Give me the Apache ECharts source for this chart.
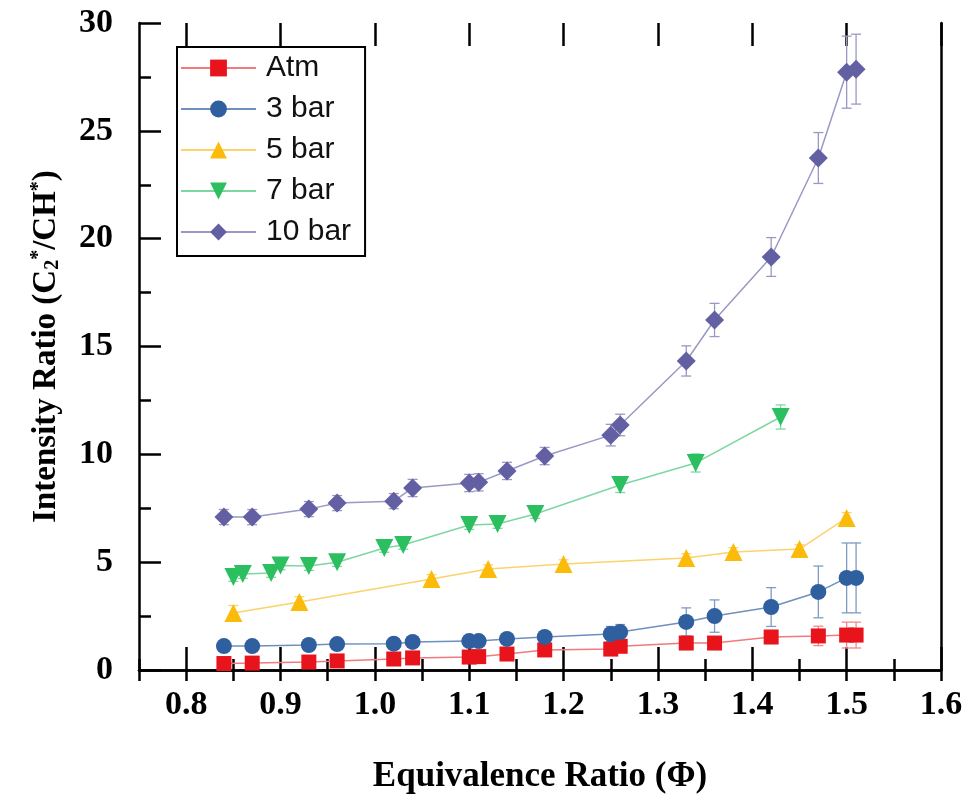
<!DOCTYPE html>
<html>
<head>
<meta charset="utf-8">
<script src="https://cdn.jsdelivr.net/npm/echarts@6/dist/echarts.min.js"></script>
<style>html,body{margin:0;padding:0;background:#fff}#c{width:973px;height:809px}</style>
</head>
<body>
<div id="c"></div>
<script>
// ---- data ----
const atmX  = [0.84,0.87,0.93,0.96,1.02,1.04,1.10,1.11,1.14,1.18,1.25,1.26,1.33,1.36,1.42,1.47,1.50,1.51];
const atmY  = [0.30,0.32,0.37,0.42,0.51,0.56,0.60,0.62,0.74,0.93,0.97,1.10,1.25,1.25,1.53,1.58,1.62,1.62];
const atmE  = [0.12,0.12,0.12,0.12,0.12,0.12,0.12,0.12,0.12,0.12,0.15,0.15,0.15,0.15,0.30,0.45,0.60,0.60];

const b3X = [0.84,0.87,0.93,0.96,1.02,1.04,1.10,1.11,1.14,1.18,1.25,1.26,1.33,1.36,1.42,1.47,1.50,1.51];
const b3Y = [1.11,1.11,1.16,1.20,1.22,1.30,1.34,1.34,1.44,1.53,1.67,1.76,2.23,2.50,2.92,3.62,4.27,4.27];
const b3E = [0.20,0.20,0.20,0.20,0.20,0.20,0.20,0.20,0.20,0.20,0.35,0.35,0.65,0.75,0.90,1.20,1.62,1.62];

const b5X = [0.85,0.92,1.06,1.12,1.20,1.33,1.38,1.45,1.50];
const b5Y = [2.64,3.15,4.22,4.68,4.91,5.19,5.47,5.61,7.05];
const b5E = [0.35,0.25,0.20,0.20,0.20,0.20,0.20,0.20,0.25];

const b7X = [0.85,0.86,0.89,0.90,0.93,0.96,1.01,1.03,1.10,1.13,1.17,1.26,1.34,1.43];
const b7Y = [4.31,4.45,4.50,4.85,4.82,5.00,5.66,5.80,6.72,6.77,7.23,8.58,9.60,11.73];
const b7E = [0.20,0.20,0.20,0.20,0.20,0.20,0.20,0.20,0.20,0.20,0.20,0.35,0.42,0.56];

const b10X = [0.84,0.87,0.93,0.96,1.02,1.04,1.10,1.11,1.14,1.18,1.25,1.26,1.33,1.36,1.42,1.47,1.50,1.51];
const b10Y = [7.09,7.09,7.46,7.74,7.83,8.44,8.67,8.70,9.23,9.92,10.89,11.36,14.33,16.23,19.15,23.74,27.72,27.86];
const b10E = [0.35,0.35,0.35,0.35,0.35,0.40,0.40,0.40,0.40,0.40,0.50,0.50,0.70,0.77,0.90,1.18,1.67,1.62];

const seriesNames = ['Atm','3 bar','5 bar','7 bar','10 bar'];
const xTickLabels = ['0.8','0.9','1.0','1.1','1.2','1.3','1.4','1.5','1.6'];
const yTickLabels = ['0','5','10','15','20','25','30'];

// ---- styles ----
const styles = [
  {mark:'#e8141c', line:'#f07a7e', err:'#f4898c', symbol:'rect', size:15, rot:0},
  {mark:'#2f5f9f', line:'#6f8fbf', err:'#7f9ac4', symbol:'circle', size:16, rot:0},
  {mark:'#fbbb0a', line:'#fcd36a', err:'#fcd36a', symbol:'triangle', size:18, rot:0},
  {mark:'#2cbf60', line:'#7cd8a0', err:'#7cd8a0', symbol:'triangle', size:18, rot:180},
  {mark:'#625fa3', line:'#9a98c4', err:'#9a98c4', symbol:'diamond', size:19, rot:0}
];
const xs = [atmX,b3X,b5X,b7X,b10X], ys=[atmY,b3Y,b5Y,b7Y,b10Y], es=[atmE,b3E,b5E,b7E,b10E];

const serif = 'Liberation Serif';
const series = [];
seriesNames.forEach((n,i)=>{
  const st = styles[i];
  const pts = xs[i].map((x,k)=>[x, ys[i][k], es[i][k]]);
  series.push({
    name:n, type:'line', xAxisIndex:0, yAxisIndex:0, z:3,
    data: pts.map(p=>[p[0],p[1]]),
    symbol: st.symbol, symbolSize: st.size, symbolRotate: st.rot,
    showAllSymbol:true,
    lineStyle:{color:st.line, width:1.5},
    itemStyle:{color:st.mark},
    animation:false
  });
  series.push({
    name:n+' error', type:'custom', xAxisIndex:0, yAxisIndex:0, z:2, silent:true,
    data: pts,
    renderItem:(params, api)=>{
      const x=api.value(0), y=api.value(1), e=api.value(2);
      const p1=api.coord([x,y+e]), p2=api.coord([x,y-e]);
      const cw=5;
      const s={stroke:st.err, lineWidth:1.3};
      return {type:'group', children:[
        {type:'line', shape:{x1:p1[0],y1:p1[1],x2:p2[0],y2:p2[1]}, style:s},
        {type:'line', shape:{x1:p1[0]-cw,y1:p1[1],x2:p1[0]+cw,y2:p1[1]}, style:s},
        {type:'line', shape:{x1:p2[0]-cw,y1:p2[1],x2:p2[0]+cw,y2:p2[1]}, style:s}
      ]};
    }
  });
});

const chart = echarts.init(document.getElementById('c'), null, {renderer:'canvas'});
const gridW = 802, xmin=0.75, xmax=1.6;
const left2 = 139 + (0.8-xmin)/(xmax-xmin)*gridW;
chart.setOption({
  animation:false,
  backgroundColor:'#fff',
  grid:[
    {left:139, right:32, top:23, bottom:139, containLabel:false},
    {left:left2, right:32, top:23, bottom:139, containLabel:false}
  ],
  legend:{
    data: seriesNames.map(n=>({name:n})),
    orient:'vertical', left:177, top:47,
    itemWidth:75, itemHeight:21, itemGap:11,
    padding:[6,14,9,3],
    borderColor:'#000', borderWidth:2, backgroundColor:'#fff',
    textStyle:{fontFamily:'Liberation Sans', fontSize:30, color:'#111', padding:[0,0,0,5]},
    selectedMode:false, z:10
  },
  xAxis:[
    {gridIndex:0, type:'value', min:xmin, max:xmax, interval:0.05, position:'bottom',
     name:'Equivalence Ratio (\u03A6)', nameLocation:'middle', nameGap:89,
     nameTextStyle:{fontFamily:serif, fontWeight:'bold', fontSize:35, color:'#000'},
     axisLine:{show:true, lineStyle:{color:'#000', width:2.5}},
     axisTick:{show:true, inside:true, length:11, lineStyle:{color:'#000', width:2.5}},
     axisLabel:{show:false}, splitLine:{show:false}},
    {gridIndex:0, type:'value', min:xmin, max:xmax, interval:0.05, position:'top',
     axisLine:{show:true, lineStyle:{color:'#000', width:2.5}},
     axisTick:{show:true, inside:true, length:11, lineStyle:{color:'#000', width:2.5}},
     axisLabel:{show:false}, splitLine:{show:false}},
    {gridIndex:1, type:'value', min:0.8, max:1.6, interval:0.1, position:'bottom',
     axisLine:{show:false},
     axisTick:{show:true, inside:true, length:23, lineStyle:{color:'#000', width:2.5}},
     axisLabel:{show:true, margin:18, fontFamily:serif, fontWeight:'bold', fontSize:34, color:'#000',
       formatter:(v)=>{const i=Math.round((v-0.8)/0.1); return xTickLabels[i]!==undefined?xTickLabels[i]:'';}},
     splitLine:{show:false}},
    {gridIndex:1, type:'value', min:0.8, max:1.6, interval:0.1, position:'top',
     axisLine:{show:false},
     axisTick:{show:true, inside:true, length:23, lineStyle:{color:'#000', width:2.5}},
     axisLabel:{show:false}, splitLine:{show:false}}
  ],
  yAxis:[
    {gridIndex:0, type:'value', min:0, max:30, interval:5, position:'left',
     name:'Intensity Ratio (C{sub|2}{sup|*}/CH{sup|*})', nameLocation:'middle', nameGap:76,
     nameTextStyle:{fontFamily:serif, fontWeight:'bold', fontSize:33, color:'#000',
       rich:{sub:{fontFamily:serif, fontWeight:'bold', fontSize:20, color:'#000', verticalAlign:'bottom', padding:[12,0,0,0]},
             sup:{fontFamily:serif, fontWeight:'bold', fontSize:20, color:'#000', verticalAlign:'top', padding:[0,0,14,0]}}},
     axisLine:{show:true, lineStyle:{color:'#000', width:2.5}},
     axisTick:{show:true, inside:true, length:22, lineStyle:{color:'#000', width:2.5}},
     minorTick:{show:true, splitNumber:2, length:12, lineStyle:{color:'#000', width:2.5}},
     axisLabel:{show:true, margin:26, fontFamily:serif, fontWeight:'bold', fontSize:34, color:'#000',
       formatter:(v)=>{const i=Math.round(v/5); return yTickLabels[i]!==undefined?yTickLabels[i]:'';}},
     splitLine:{show:false}},
    {gridIndex:0, type:'value', min:0, max:30, interval:5, position:'right',
     axisLine:{show:true, lineStyle:{color:'#000', width:2.5}},
     axisTick:{show:false}, axisLabel:{show:false}, splitLine:{show:false}},
    {gridIndex:1, type:'value', min:0, max:30, show:false}
  ],
  series: series
});
</script>
</body>
</html>
